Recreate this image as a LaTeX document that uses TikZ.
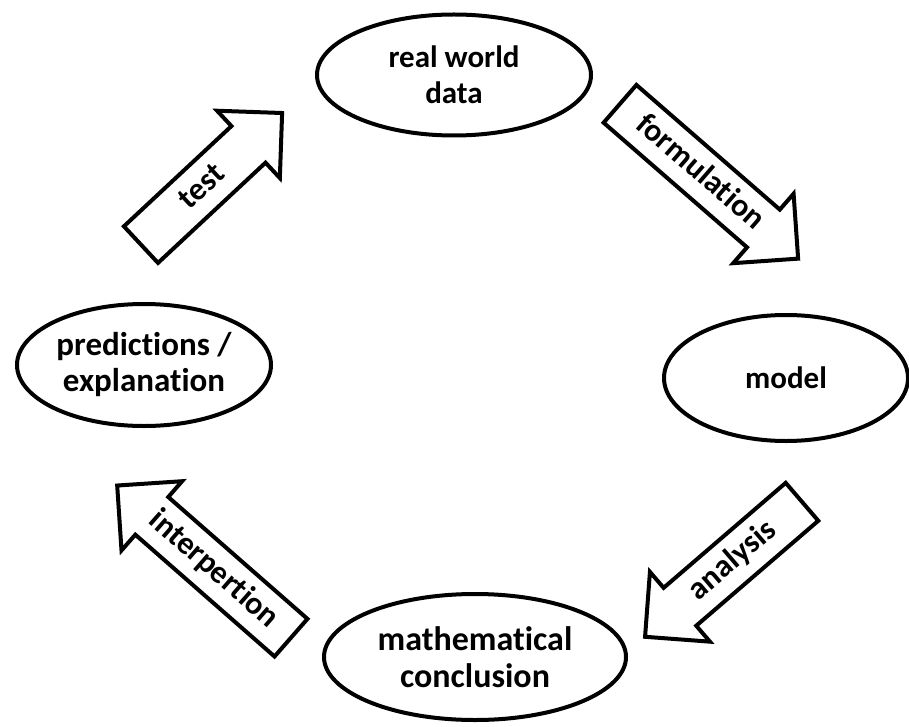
\documentclass[tikz,border=0pt]{standalone}
\usepackage{fontspec}
\setmainfont{Carlito}[Ligatures={NoCommon,NoContextual},Contextuals=NoAlternate]
\usetikzlibrary{shapes.geometric,shapes.arrows}

\begin{document}
\begin{tikzpicture}[x=1pt,y=-1pt]
\tikzset{stage/.style={draw,ellipse,line width=4pt,inner sep=0pt,align=center,font=\bfseries\fontsize{31}{36}\selectfont}}
\tikzset{flow/.style={draw,single arrow,line width=4pt,single arrow tip angle=90,single arrow head extend=21pt,inner xsep=2pt,inner ysep=9pt,text height=22pt,text depth=6pt,anchor=tail,font=\bfseries\fontsize{32}{36}\selectfont}}
\tikzset{flowback/.style={flow,shape border rotate=180}}

\useasboundingbox (0,0) rectangle (909,727);

% the four stages
\node[stage,minimum width=274pt,minimum height=121pt] (data) at (454,75) {real world\\data};
\node[stage,minimum width=244pt,minimum height=126pt] (model) at (786,378) {model};
\node[stage,minimum width=302pt,minimum height=126pt,font=\bfseries\fontsize{34}{37}\selectfont] (concl) at (475,657) {mathematical\\conclusion};
\node[stage,minimum width=254pt,minimum height=122pt,font=\bfseries\fontsize{33}{36}\selectfont] (pred) at (144,365) {predictions /\\explanation};

% block arrows between them, placed by their tails
\node[flow,minimum height=236pt,rotate=-41] (formulation) at (618.5,102.5) {formulation};
\node[flowback,minimum height=207pt,rotate=40.7] (analysis) at (803.5,500.5) {analysis};
\node[flowback,minimum height=231pt,rotate=-41.2] (interp) at (292.5,639) {interpertion};
\node[flow,minimum height=193pt,rotate=43] (test) at (139.5,246) {test};

\end{tikzpicture}
\end{document}
